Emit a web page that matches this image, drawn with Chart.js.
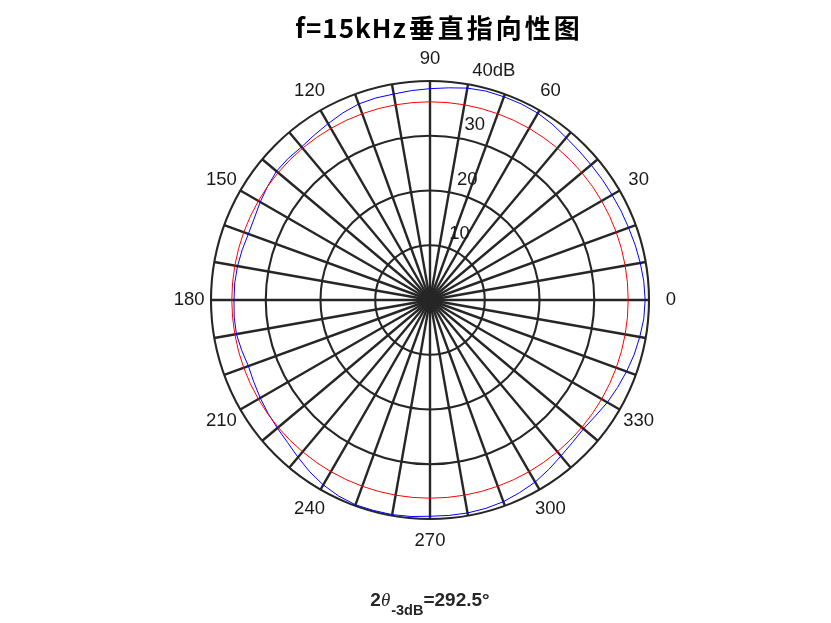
<!DOCTYPE html>
<html>
<head>
<meta charset="utf-8">
<title>f=15kHz垂直指向性图</title>
<script src="https://cdn.jsdelivr.net/npm/chart.js@4.4.1/dist/chart.umd.min.js"></script>
<style>
  html, body { margin: 0; padding: 0; background: #ffffff; }
  #wrap { width: 831px; height: 623px; position: relative; }
</style>
</head>
<body>
<div id="wrap"><canvas id="polarChart"></canvas></div>
<script>
// measured angles (deg, counter-clockwise from the right) and level (dB)
const angles = [
    0, 5, 10, 15, 20, 25, 30, 35, 40, 45, 50, 55,
    60, 65, 70, 75, 80, 85, 90, 95, 100, 105, 110, 115,
    120, 125, 130, 135, 140, 145, 150, 155, 160, 165, 170, 175,
    180, 185, 190, 195, 200, 205, 210, 215, 220, 225, 230, 235,
    240, 245, 250, 255, 260, 265, 270, 275, 280, 285, 290, 295,
    300, 305, 310, 315, 320, 325, 330, 335, 340, 345, 350, 355
];
const levels = [
    39.3, 39.2, 39.0, 38.8, 38.6, 38.5, 38.4, 38.4, 38.4, 38.5, 38.7, 39.1,
    39.4, 39.5, 39.5, 39.5, 39.3, 38.9, 38.6, 38.4, 38.2, 38.2, 38.1, 37.7,
    37.2, 36.8, 36.5, 36.6, 36.6, 36.2, 35.8, 35.4, 35.3, 35.5, 35.7, 35.8,
    35.8, 35.9, 35.9, 35.6, 35.3, 35.5, 35.8, 36.1, 36.4, 36.8, 37.5, 38.3,
    39.0, 39.5, 39.8, 39.8, 39.8, 39.7, 39.5, 39.5, 39.5, 39.4, 39.2, 38.8,
    38.4, 37.8, 37.2, 36.8, 36.6, 36.9, 37.4, 37.8, 38.2, 38.6, 38.9, 39.2
];
const minus3dBLevel = 36.2;

const angleTicks = [0, 30, 60, 90, 120, 150, 180, 210, 240, 270, 300, 330];
const radiusTicks = [10, 20, 30, 40];
const radiusTickLabels = ["10", "20", "30", "40dB"];

const titleLatin = "f=15kHz";
const titleCjk = "垂直指向性图";
const beamWidthText = "=292.5°";

// radar runs clockwise, so walk the angles backwards to get a CCW polar plot
const labelAngles = angles.map((a, i) => angles[(angles.length - i) % angles.length]);
const curveData = labelAngles.map(a => levels[angles.indexOf(a)]);
const circleData = labelAngles.map(() => minus3dBLevel);

const gridColor = "#262626";
const textColor = "#1a1a1a";
const labelFont = '18.5px "Liberation Sans", Arial, sans-serif';

const polarText = {
    id: "polarText",
    afterDraw(chart) {
        const ctx = chart.ctx;
        const r = chart.scales.r;
        ctx.save();
        ctx.fillStyle = textColor;

        // angle labels at 1.1 * rmax
        ctx.font = labelFont;
        ctx.textAlign = "center";
        ctx.textBaseline = "middle";
        angleTicks.forEach(a => {
            const p = r.getPointPositionForValue(labelAngles.indexOf(a), r.max * 1.1);
            ctx.fillText(String(a), p.x, p.y);
        });

        // radius labels along 82 degrees
        const a82 = 82 * Math.PI / 180;
        ctx.textAlign = "left";
        ctx.textBaseline = "bottom";
        radiusTicks.forEach((v, i) => {
            const d = r.getDistanceFromCenterForValue(v + 0.5);
            ctx.fillText("  " + radiusTickLabels[i], r.xCenter + d * Math.cos(a82) + 1, r.yCenter - d * Math.sin(a82));
        });

        // title: latin part tight, chinese part a bit spaced
        ctx.fillStyle = "#000000";
        ctx.font = 'bold 26px "Noto Sans CJK SC", sans-serif';
        ctx.textBaseline = "middle";
        ctx.textAlign = "left";
        ctx.letterSpacing = "1px";
        const latinW = ctx.measureText(titleLatin).width;
        ctx.letterSpacing = "3px";
        const cjkW = ctx.measureText(titleCjk).width;
        const tx = 439 - (latinW + 2 + cjkW) / 2;
        ctx.letterSpacing = "1px";
        ctx.fillText(titleLatin, tx, 28);
        ctx.letterSpacing = "3px";
        ctx.fillText(titleCjk, tx + latinW + 2, 28);
        ctx.letterSpacing = "0px";

        // 2θ-3dB text under the plot
        const parts = [
            { text: "2", font: 'bold 19px "Liberation Sans", Arial, sans-serif', dy: 0, gap: 0 },
            { text: "θ", font: 'italic 19px "Liberation Serif", serif', dy: 0, gap: 1 },
            { text: "-3dB", font: 'bold 14.5px "Liberation Sans", Arial, sans-serif', dy: 9, gap: 0 },
            { text: beamWidthText, font: 'bold 19px "Liberation Sans", Arial, sans-serif', dy: 0, gap: 0 }
        ];
        let total = 0;
        parts.forEach(p => {
            ctx.font = p.font;
            p.w = ctx.measureText(p.text).width;
            total += p.w + p.gap;
        });
        let x = 430 - total / 2;
        ctx.fillStyle = gridColor;
        ctx.textBaseline = "alphabetic";
        parts.forEach(p => {
            ctx.font = p.font;
            ctx.fillText(p.text, x, 606 + p.dy);
            x += p.w + p.gap;
        });
        ctx.restore();
    }
};

new Chart(document.getElementById("polarChart"), {
    type: "radar",
    data: {
        labels: labelAngles.map(String),
        datasets: [
            {
                label: "-3dB",
                data: circleData,
                borderColor: "#ff0000",
                borderWidth: 1,
                fill: false,
                pointRadius: 0
            },
            {
                label: "level",
                data: curveData,
                borderColor: "#0000ff",
                borderWidth: 1,
                fill: false,
                pointRadius: 0
            }
        ]
    },
    options: {
        responsive: true,
        maintainAspectRatio: false,
        animation: false,
        layout: { padding: { left: 211, right: 182, top: 81, bottom: 104 } },
        plugins: {
            legend: { display: false },
            tooltip: { enabled: false }
        },
        elements: { line: { tension: 0 } },
        scales: {
            r: {
                min: 0,
                max: 40,
                startAngle: 90,
                ticks: { display: false, stepSize: 10 },
                pointLabels: { display: false },
                grid: { circular: true, color: gridColor, lineWidth: 2.1 },
                angleLines: {
                    color: gridColor,
                    lineWidth: ctx => (labelAngles[ctx.index] % 10 === 0 ? 2.4 : 0)
                }
            }
        }
    },
    plugins: [polarText]
});
</script>
</body>
</html>
